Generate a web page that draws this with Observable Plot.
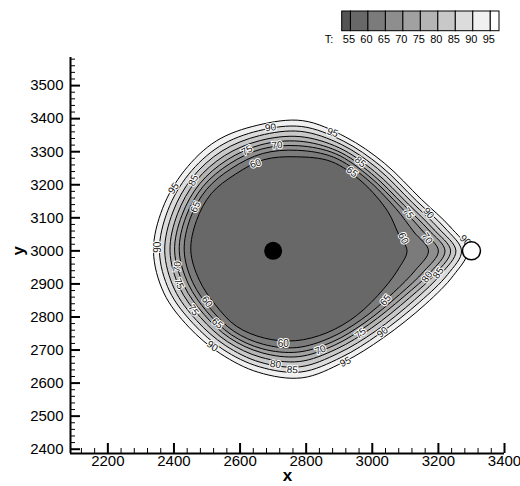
<!DOCTYPE html>
<html><head><meta charset="utf-8">
<script src="https://cdn.jsdelivr.net/npm/d3@7"></script>
<script src="https://cdn.jsdelivr.net/npm/@observablehq/plot@0.6"></script>
<style>
html,body{margin:0;padding:0;background:#fff;}
#wrap{position:relative;width:520px;height:486px;font-family:"Liberation Sans",Arial,sans-serif;}
#wrap svg{position:absolute;}
</style></head><body><div id="wrap"></div>
<script>
// ---- data ----
const xMajor = [2200, 2400, 2600, 2800, 3000, 3200, 3400];
const yMajor = [2400, 2500, 2600, 2700, 2800, 2900, 3000, 3100, 3200, 3300, 3400, 3500];
const levels = [60, 65, 70, 75, 80, 85, 90, 95];
const center = [2720, 3000];
const angles = [0, 8, 20, 40, 60, 80, 100, 120, 140, 160, 180, 200, 220, 240, 260, 280, 300, 320, 340, 352];
const r60 = [385, 363, 348, 325, 312, 289, 280, 268, 270, 268, 269, 259, 254, 263, 268, 276, 286, 304, 335, 365];
const r65 = [450, 410, 374, 341, 327, 309, 299, 289, 289, 288, 289, 280, 273, 280, 287, 297, 304, 323, 367, 415];
const r70 = [480, 436, 389, 352, 339, 323, 313, 304, 303, 302, 304, 294, 287, 293, 301, 311, 318, 337, 386, 441];
const r75 = [500, 455, 401, 363, 349, 337, 326, 318, 316, 315, 318, 308, 299, 304, 313, 325, 330, 349, 401, 461];
const r80 = [517, 470, 414, 374, 360, 351, 339, 333, 330, 329, 332, 323, 313, 317, 327, 340, 343, 363, 417, 478];
const r85 = [533, 486, 427, 387, 372, 367, 354, 349, 345, 344, 348, 339, 328, 330, 342, 356, 357, 378, 434, 494];
const r90 = [550, 504, 441, 399, 384, 382, 369, 365, 360, 360, 364, 355, 342, 344, 356, 372, 372, 392, 451, 513];
const r95 = [568, 521, 456, 413, 398, 400, 386, 384, 377, 377, 382, 373, 359, 359, 373, 390, 388, 409, 470, 531];
const radii = [r60, r65, r70, r75, r80, r85, r90, r95];
// fill of the region enclosed by each level's contour (band just below the level)
const insideColors = ["#686868", "#7b7b7b", "#8e8e8e", "#a1a1a1", "#b4b4b4", "#c8c8c8", "#dcdcdc", "#f0f0f0"];
const legendEdges = [52.5, 55, 60, 65, 70, 75, 80, 85, 90, 95, 97.5];
const legendColors = ["#545454", "#686868", "#7b7b7b", "#8e8e8e", "#a1a1a1", "#b4b4b4", "#c8c8c8", "#dcdcdc", "#f0f0f0", "#ffffff"];
const legendLabels = [55, 60, 65, 70, 75, 80, 85, 90, 95];
const coldSpot = [[2700, 3000]];
const hotSpot = [[3300, 3000]];
const labelText = ["90","95","75","70","60","95","85","65","85","65","75","90","60","70","90","80","85","65","75","90","70","95","60","80","85","90","65","75","60","75","70","90"];
const labelX = [2692,2880,2621,2712,2647,2399,2459,2465,2964,2939,3109,3170,3094,3166,3281,3166,3200,3040,2964,3031,2843,2919,2731,2707,2758,2516,2531,2459,2500,2415,2410,2350];
const labelY = [3373,3358,3304,3319,3264,3189,3213,3133,3269,3239,3114,3114,3038,3038,3032,2921,2933,2851,2751,2754,2700,2664,2718,2657,2640,2712,2781,2821,2846,2901,2952,3011];
const labelRot = [-8,20,-30,-5,-18,-55,-65,-65,40,40,55,50,65,55,45,-55,-55,-50,-40,-40,-22,-25,0,8,5,35,40,55,55,65,-85,-90];

// ---- build ----
const X0 = 2087, X1 = 3400, Y0 = 2387, Y1 = 3585;
const W = 520, H = 486, mT = 57, mB = 33, mL = 70, mR = 16;
const fH = H - mT - mB, fW = W - mL - mR;
const xMinor = d3.range(2120, 3401, 40).filter(v => v % 200 !== 0);
const yMinor = d3.range(2400, 3585, 20).filter(v => v % 100 !== 0);

const contours = levels.map((L, k) => angles.map((a, i) => ({
  level: L,
  x: center[0] + radii[k][i] * Math.cos(a * Math.PI / 180),
  y: center[1] + radii[k][i] * Math.sin(a * Math.PI / 180)
})));
const labels = labelText.map((t, i) => ({t, x: labelX[i], y: labelY[i], r: labelRot[i]}));

const fillMarks = [];
for (let k = levels.length - 1; k >= 0; k--) {
  fillMarks.push(Plot.line(contours[k], {x: "x", y: "y", curve: "catmull-rom-closed", fill: insideColors[k], stroke: "#000", strokeWidth: 1}));
}

const chart = Plot.plot({
  width: W, height: H, marginTop: mT, marginBottom: mB, marginLeft: mL, marginRight: mR,
  style: {fontFamily: "'Liberation Sans', Arial, sans-serif", background: "transparent"},
  x: {domain: [X0, X1], axis: null},
  y: {domain: [Y0, Y1], axis: null},
  marks: [
    ...fillMarks,
    ...labels.map(d => Plot.text([d], {x: "x", y: "y", text: "t", rotate: d.r, fontSize: 10, fill: "#111", stroke: "#fff", strokeWidth: 2})),
    Plot.dot(coldSpot, {x: d => d[0], y: d => d[1], r: 9, fill: "#000"}),
    Plot.dot(hotSpot, {x: d => d[0], y: d => d[1], r: 9, fill: "#fff", stroke: "#000", strokeWidth: 1.5}),
    Plot.tickX(xMajor, {x: d => d, insetTop: fH - 10, strokeWidth: 2}),
    Plot.tickX(xMinor, {x: d => d, insetTop: fH - 5, strokeWidth: 1}),
    Plot.tickY(yMajor, {y: d => d, insetRight: fW - 10, strokeWidth: 2}),
    Plot.tickY(yMinor, {y: d => d, insetRight: fW - 5, strokeWidth: 1}),
    Plot.ruleY([Y0], {strokeWidth: 2}),
    Plot.ruleX([X0], {strokeWidth: 2}),
    Plot.text(xMajor, {x: d => d, text: d => String(d), frameAnchor: "bottom", dy: 12, fontSize: 15, fill: "#000"}),
    Plot.text(yMajor, {y: d => d, text: d => String(d), frameAnchor: "left", dx: -7, textAnchor: "end", fontSize: 15, fill: "#000"}),
    Plot.text(["x"], {frameAnchor: "bottom", text: d => d, dy: 27, fontSize: 17, fontWeight: "bold", fill: "#000"}),
    Plot.text(["y"], {frameAnchor: "left", text: d => d, dx: -52, rotate: -90, fontSize: 17, fontWeight: "bold", fill: "#000"})
  ]
});
chart.style.left = "0px"; chart.style.top = "0px";
document.getElementById("wrap").appendChild(chart);

const legend = Plot.plot({
  width: 220, height: 56, marginLeft: 41.7, marginRight: 21, marginTop: 11, marginBottom: 25.3,
  style: {fontFamily: "'Liberation Sans', Arial, sans-serif", background: "transparent"},
  x: {domain: [52.5, 97.5], axis: null},
  color: {type: "identity"},
  marks: [
    Plot.barX(legendColors, {x1: (d, i) => legendEdges[i], x2: (d, i) => legendEdges[i + 1], fill: d => d, stroke: "#000", strokeWidth: 1}),
    Plot.text(legendLabels, {x: d => d, text: d => String(d), frameAnchor: "bottom", dy: 12, dx: -2, fontSize: 11, fill: "#000"}),
    Plot.text(["T:"], {x: () => 52.5, text: d => d, frameAnchor: "bottom", dy: 12, dx: -9, textAnchor: "end", fontSize: 11, fill: "#000"})
  ]
});
legend.style.left = "300px"; legend.style.top = "0px";
document.getElementById("wrap").appendChild(legend);
</script></body></html>
